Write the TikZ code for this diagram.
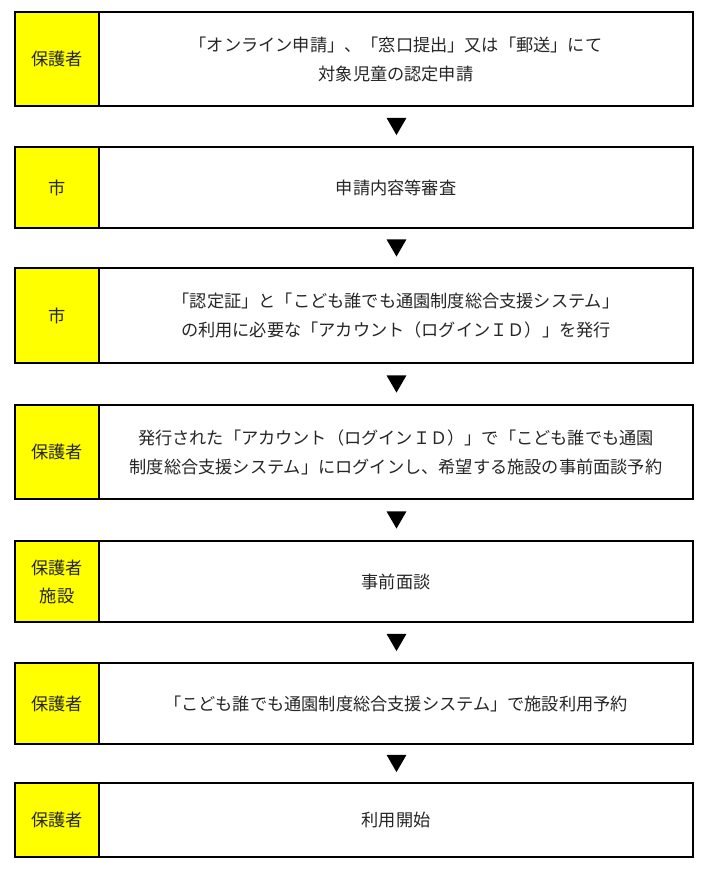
\documentclass[tikz,border=0pt]{standalone}
\usepackage{fontspec}
\setmainfont{Noto Sans CJK JP}
\usetikzlibrary{shapes.geometric,positioning}

\definecolor{gelb}{HTML}{FFFF00}
\definecolor{schrift}{HTML}{262626}

\begin{document}
\begin{tikzpicture}[x=1pt,y=-1pt,
		wer/.style={rectangle,draw,line width=2.6pt,fill=gelb,minimum width=84pt,inner sep=0pt,align=center,text=schrift,font=\fontsize{17.2}{28}\selectfont},
		was/.style={rectangle,draw,line width=2.6pt,fill=white,minimum width=594pt,inner sep=0pt,align=center,text=schrift,font=\fontsize{17.2}{29}\selectfont},
		pfeil/.style={regular polygon,regular polygon sides=3,shape border rotate=180,fill=black,minimum size=23pt,inner sep=0pt}]
		\useasboundingbox (0,0) rectangle (710,871);

		% Zeilen
		\node[wer,minimum height=94pt] (wer1) at (57,59) {保護者};
		\node[was,minimum height=94pt] (was1) at (396,59) {「オンライン申請」、「窓口提出」又は「郵送」にて\\対象児童の認定申請};
		\node[wer,minimum height=81pt] (wer2) at (57,187.5) {市};
		\node[was,minimum height=81pt] (was2) at (396,187.5) {申請内容等審査};
		\node[wer,minimum height=95pt] (wer3) at (57,315.5) {市};
		\node[was,minimum height=95pt] (was3) at (396,315.5) {「認定証」と「こども誰でも通園制度総合支援システム」\\の利用に必要な「アカウント（ログインＩＤ）」を発行};
		\node[wer,minimum height=94pt] (wer4) at (57,452) {保護者};
		\node[was,minimum height=94pt] (was4) at (396,452) {発行された「アカウント（ログインＩＤ）」で「こども誰でも通園\\制度総合支援システム」にログインし、希望する施設の事前面談予約};
		\node[wer,minimum height=81pt] (wer5) at (57,581.5) {保護者\\施設};
		\node[was,minimum height=81pt] (was5) at (396,581.5) {事前面談};
		\node[wer,minimum height=81pt] (wer6) at (57,703.5) {保護者};
		\node[was,minimum height=81pt] (was6) at (396,703.5) {「こども誰でも通園制度総合支援システム」で施設利用予約};
		\node[wer,minimum height=74pt] (wer7) at (57,820) {保護者};
		\node[was,minimum height=74pt] (was7) at (396,820) {利用開始};

		% Pfeile
		\node[pfeil] (p1) at (396.5,123.6) {};
		\node[pfeil] (p2) at (396.5,245.1) {};
		\node[pfeil] (p3) at (396.5,381.1) {};
		\node[pfeil] (p4) at (396.5,517.1) {};
		\node[pfeil] (p5) at (396.5,639.6) {};
		\node[pfeil] (p6) at (396.5,760.6) {};
	\end{tikzpicture}
\end{document}
